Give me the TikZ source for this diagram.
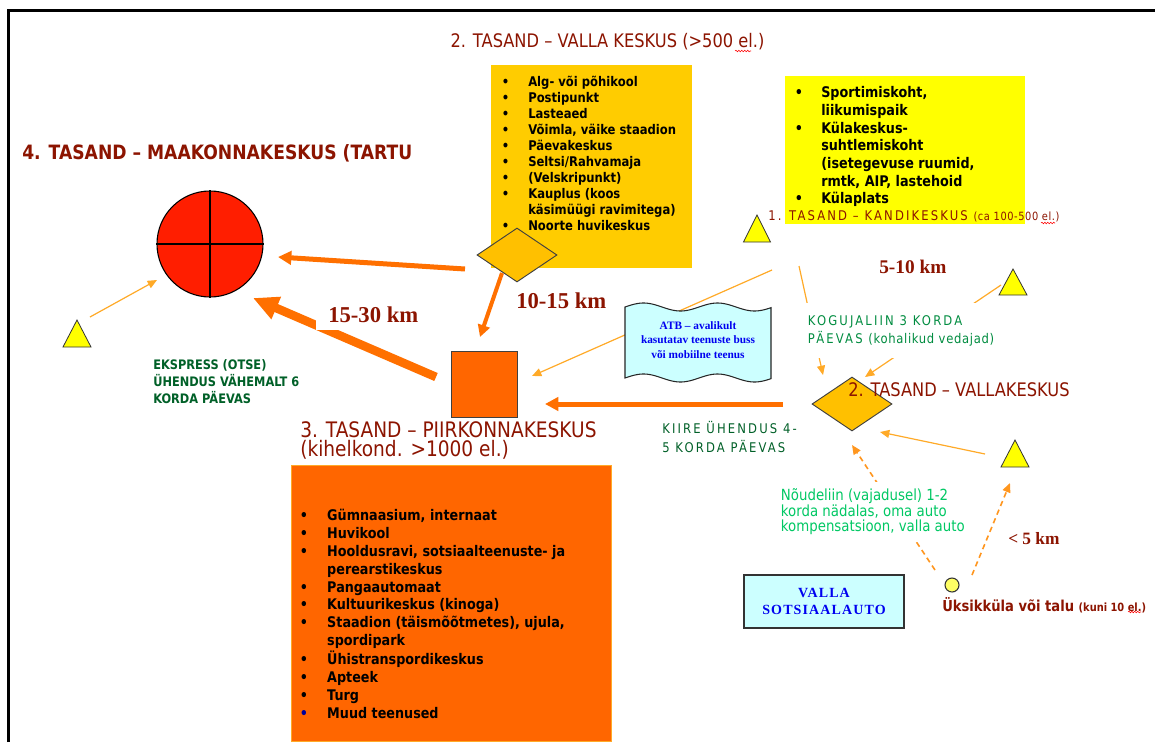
\documentclass[tikz,border=0pt]{standalone}
\usepackage{fontspec}
\usetikzlibrary{shapes.geometric,arrows.meta,decorations.pathmorphing}
\newfontfamily\tah{DejaVu Sans}[FakeStretch=0.87]
\newfontfamily\tahsp{DejaVu Sans}[FakeStretch=0.87,LetterSpace=16]
\newfontfamily\tahls{DejaVu Sans}[FakeStretch=0.87,LetterSpace=5]
\newfontfamily\tms{Liberation Serif}
\newfontfamily\tmssp{Liberation Serif}[LetterSpace=8]
\definecolor{dred}{RGB}{140,20,0}
\definecolor{goldbox}{RGB}{255,204,0}
\definecolor{golddia}{RGB}{255,192,0}
\definecolor{yelbox}{RGB}{255,255,0}
\definecolor{orgbox}{RGB}{255,102,0}
\definecolor{arrthick}{RGB}{255,112,0}
\definecolor{arrthin}{RGB}{255,170,40}
\definecolor{arrdash}{RGB}{255,150,30}
\definecolor{redc}{RGB}{255,30,0}
\definecolor{cyanf}{RGB}{204,255,255}
\definecolor{gdark}{RGB}{0,96,40}
\definecolor{gmid}{RGB}{0,140,64}
\definecolor{glight}{RGB}{0,200,100}
\definecolor{blu}{RGB}{0,0,240}
\definecolor{villy}{RGB}{255,255,100}
\begin{document}
\begin{tikzpicture}[x=0.75pt,y=-0.75pt,
  panel/.style={anchor=north west, inner sep=0pt},
  listtext/.style={anchor=north west, inner sep=0pt},
  tri/.style={draw=black!80, fill=yelbox, line width=0.6pt},
  dia/.style={diamond, draw=black!75, fill=golddia, line width=0.7pt, minimum width=60pt, minimum height=40.5pt, inner sep=0pt},
  bigarrow/.style={draw=arrthick, line width=#1},
  thinarrow/.style={draw=arrthin, line width=0.9pt, -{Triangle[length=7pt,width=6pt]}},
  dasharrow/.style={draw=arrdash, line width=1.2pt, dash pattern=on 4pt off 3pt, -{Triangle[length=7pt,width=6pt]}},
  lbl/.style={anchor=west, inner sep=0pt, align=left},
  km/.style={anchor=west, inner sep=0pt, text=dred, font=\tms\bfseries\fontsize{#1}{#1}\selectfont},
  spell/.style={draw=red, line width=0.4pt, decorate, decoration={snake, amplitude=0.6pt, segment length=2.2pt}}
]
\useasboundingbox (0,0) rectangle (1155,742);
\fill[white] (0,0) rectangle (1155,742);
\draw[line width=1.8pt] (8.5,742) -- (8.5,10.5) -- (1155,10.5);

% ---------- panels ----------
\node[panel, fill=goldbox, minimum width=150.75pt, minimum height=152.25pt] (gbox) at (491,65) {};
\node[panel, fill=yelbox, minimum width=180pt, minimum height=111pt] (ybox) at (785,76) {};
\node[panel, fill=orgbox, draw=arrthin, line width=0.5pt, minimum width=240pt, minimum height=207pt] (obox) at (291,465) {};

\node[listtext, font=\tah\bfseries\fontsize{10}{12}\selectfont] (glist) at (501.6,74.6) {%
\begin{tabular}{@{}p{19.8pt}@{}l@{}}
\textbullet & Alg- või põhikool\\
\textbullet & Postipunkt\\
\textbullet & Lasteaed\\
\textbullet & Võimla, väike staadion\\
\textbullet & Päevakeskus\\
\textbullet & Seltsi/Rahvamaja\\
\textbullet & (Velskripunkt)\\
\textbullet & Kauplus (koos\\
 & käsimüügi ravimitega)\\
\textbullet & Noorte huvikeskus
\end{tabular}};

\node[listtext, font=\tah\bfseries\fontsize{11}{13.3}\selectfont] (ylist) at (794.5,84.9) {%
\begin{tabular}{@{}p{19.9pt}@{}l@{}}
\textbullet & Sportimiskoht,\\
 & liikumispaik\\
\textbullet & Külakeskus-\\
 & suhtlemiskoht\\
 & (isetegevuse ruumid,\\
 & rmtk, AIP, lastehoid\\
\textbullet & Külaplats
\end{tabular}};

\node[listtext, font=\tah\bfseries\fontsize{11}{13.4}\selectfont] (olist) at (299.5,507.8) {%
\begin{tabular}{@{}p{20.6pt}@{}l@{}}
\textbullet & Gümnaasium, internaat\\
\textbullet & Huvikool\\
\textbullet & Hooldusravi, sotsiaalteenuste- ja\\
 & perearstikeskus\\
\textbullet & Pangaautomaat\\
\textbullet & Kultuurikeskus (kinoga)\\
\textbullet & Staadion (täismõõtmetes), ujula,\\
 & spordipark\\
\textbullet & Ühistranspordikeskus\\
\textbullet & Apteek\\
\textbullet & Turg\\
\textcolor{blue!60!black}{\textbullet} & Muud teenused
\end{tabular}};

% ---------- connector end points ----------
\coordinate (gS) at (465,269);  \coordinate (gE) at (278,257);
\coordinate (dS) at (502,273);  \coordinate (dE) at (480,337);
\coordinate (sS) at (436,377);  \coordinate (sE) at (253,298);
\coordinate (vS) at (783,404);  \coordinate (vE) at (545,404);
\coordinate (lS) at (90,317);   \coordinate (lE) at (157,280);
\coordinate (kS) at (772,270);  \coordinate (kE) at (532,376);
\coordinate (cS) at (799,266);  \coordinate (cE) at (823,375);
\coordinate (r1S) at (1001,285); \coordinate (r1E) at (865,377);
\coordinate (r2S) at (985,454); \coordinate (r2E) at (880,432);
\coordinate (uS) at (935,570);  \coordinate (uE) at (852,445);
\coordinate (wS) at (972,575);  \coordinate (wE) at (1010,483);

% ---------- connectors ----------
\draw[bigarrow=3.75pt, -{Triangle[length=10pt,width=10pt]}] (gS) -- (gE);
\draw[bigarrow=3pt, -{Triangle[length=9pt,width=9pt]}] (dS) -- (dE);
\draw[bigarrow=6.5pt, -{Triangle[length=19pt,width=17pt]}] (sS) -- (sE);
\draw[bigarrow=3.75pt, -{Triangle[length=10pt,width=10pt]}] (vS) -- (vE);
\draw[thinarrow] (lS) -- (lE);
\draw[thinarrow] (kS) -- (kE);
\draw[thinarrow] (cS) -- (cE);
\draw[thinarrow] (r1S) -- (r1E);
\draw[thinarrow] (r2S) -- (r2E);
\draw[dasharrow] (uS) -- (uE);
\draw[dasharrow] (wS) -- (wE);

% ---------- shapes ----------
\node[circle, draw=black, fill=redc, line width=0.8pt, minimum size=79.5pt, inner sep=0pt] (mk) at (210,244) {};
\draw[line width=0.8pt] (mk.north) -- (mk.south) (mk.west) -- (mk.east);
\node[dia] (vk) at (517,255) {};
\node[draw=black!75, fill=orgbox, line width=0.7pt, minimum size=49.5pt, inner sep=0pt] (pk) at (484,384) {};
\node[dia] (vd) at (852,404) {};
\node[circle, draw=black!80, fill=villy, minimum size=10.5pt, inner sep=0pt, line width=0.8pt] (vil) at (952,585) {};
\draw[tri] (63,347) -- (77,320) -- (91,347) -- cycle;
\draw[tri] (743.5,242) -- (757,215) -- (770.5,242) -- cycle;
\draw[tri] (999,295) -- (1013,269) -- (1027,295) -- cycle;
\draw[tri] (1001,467) -- (1015,440) -- (1029,467) -- cycle;

% ---------- ATB banner ----------
\filldraw[fill=cyanf, draw=black!85, line width=0.8pt]
  plot[domain=0:146, samples=60, smooth] ({625+\x},{307-4*sin(\x*4.865)})
  -- plot[domain=146:0, samples=60, smooth] ({625+\x},{378-4*sin(\x*4.865)}) -- cycle;
\node[align=center, inner sep=0pt, text=blu, font=\tms\bfseries\fontsize{8.5}{10.9}\selectfont] (atb) at (698,340) {ATB – avalikult\\kasutatav teenuste buss\\või mobiilne teenus};

\node[draw=black!80, fill=cyanf, line width=1.1pt, minimum width=120pt, minimum height=39.75pt, align=center, text=blu, font=\tmssp\bfseries\fontsize{10.5}{12.75}\selectfont] (soc) at (824,601.5) {VALLA\\SOTSIAALAUTO};

% ---------- labels ----------
\node[text=dred, inner sep=0pt, font=\tah\fontsize{14}{16}\selectfont] (title) at (607.5,42) {2. TASAND – VALLA KESKUS (>500 el.)};
\node[lbl, text=dred, font=\tah\bfseries\fontsize{14.8}{17}\selectfont] (t4) at (22,153) {4. TASAND – MAAKONNAKESKUS (TARTU};
\node[lbl, text=dred, font=\tahsp\fontsize{10}{12}\selectfont] (kk) at (768,216) {1. TASAND – KANDIKESKUS {\tahls\fontsize{8.5}{9}\selectfont(ca 100-500 el.)}};
\node[lbl, text=dred, font=\tah\fontsize{14}{16}\selectfont] (t2v) at (848,390) {2. TASAND – VALLAKESKUS};
\node[lbl, text=dred, font=\tah\fontsize{16}{14.25}\selectfont] (t3) at (300,440.5) {3. TASAND – PIIRKONNAKESKUS\\(kihelkond. >1000 el.)};
\node[lbl, text=gdark, font=\tah\bfseries\fontsize{9.8}{12.75}\selectfont] (eks) at (153,382) {EKSPRESS (OTSE)\\ÜHENDUS VÄHEMALT 6\\KORDA PÄEVAS};
\node[lbl, text=gdark, font=\tahsp\fontsize{10}{14.25}\selectfont] (kiire) at (662,437.5) {KIIRE ÜHENDUS 4-\\5 KORDA PÄEVAS};
\node[anchor=west, align=left, fill=white, inner xsep=2pt, inner ysep=0pt, minimum height=41pt, text=gmid, font=\tahsp\fontsize{10}{13.5}\selectfont] (kogu) at (805,330.5) {KOGUJALIIN 3 KORDA\\PÄEVAS {\tahls(kohalikud vedajad)}};
\node[anchor=west, align=left, fill=white, inner xsep=2pt, inner ysep=0pt, minimum height=45pt, text=glight, font=\tah\fontsize{11.5}{11.6}\selectfont] (noude) at (778,512) {Nõudeliin (vajadusel) 1-2\\korda nädalas, oma auto\\kompensatsioon, valla auto};
\node[lbl, text=dred, font=\tah\bfseries\fontsize{11.3}{13}\selectfont] (uks) at (942,605) {Üksikküla või talu {\fontsize{8.5}{10}\selectfont(kuni 10 el.)}};
\node[km=17] (km1) at (516,301) {10-15 km};
\node[km=17, fill=white, inner xsep=9pt, inner ysep=5pt] (km2) at (316,315) {15-30 km};
\node[km=14.5] (km3) at (879,267) {5-10 km};
\node[km=13] (km4) at (1008,539) {< 5 km};

% ---------- spelling squiggles ----------
\draw[spell] (735,51) -- (751,51);
\draw[spell] (1041,223) -- (1055,223);
\draw[spell] (1128,612) -- (1141,612);
\end{tikzpicture}
\end{document}
